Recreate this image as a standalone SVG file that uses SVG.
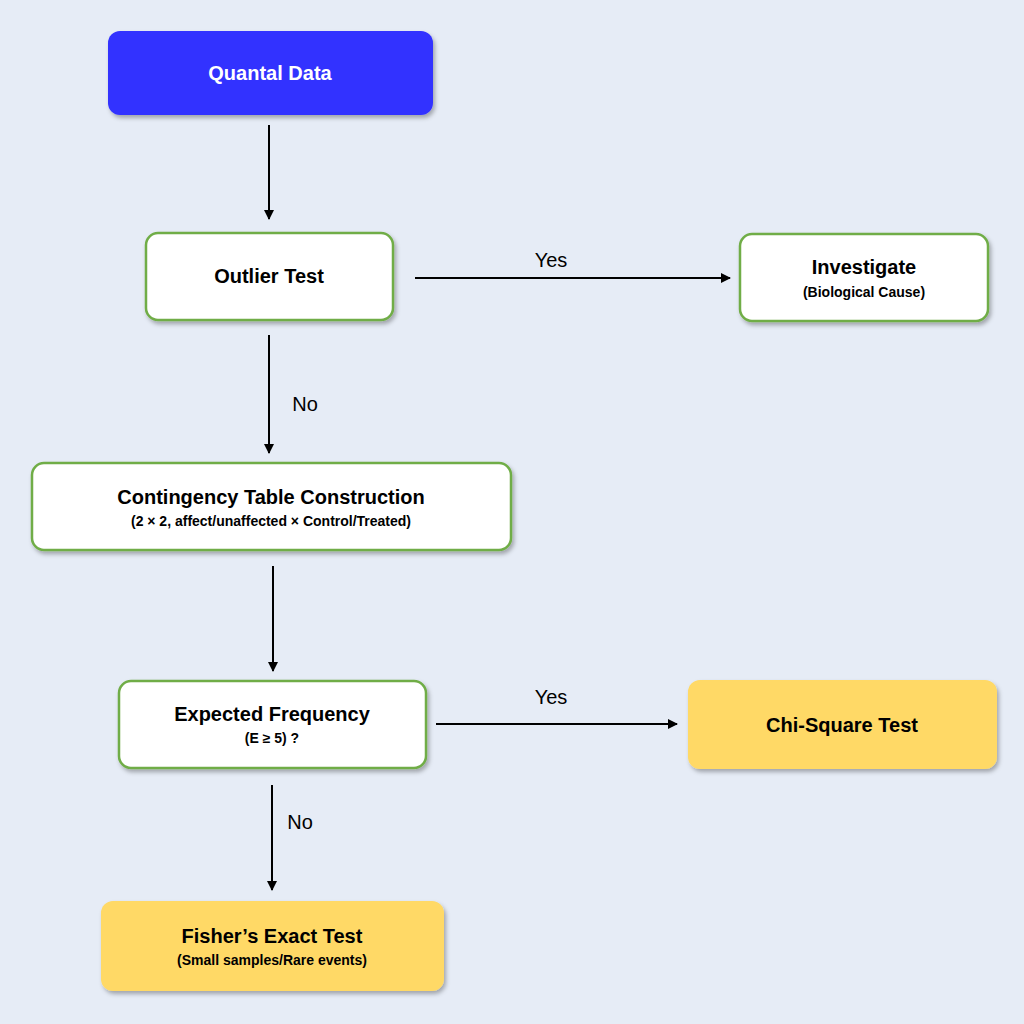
<svg xmlns="http://www.w3.org/2000/svg" width="1024" height="1024" viewBox="0 0 1024 1024">
<defs>
<filter id="sh" x="-10%" y="-10%" width="130%" height="140%"><feDropShadow dx="2" dy="3" stdDeviation="2" flood-color="#000" flood-opacity="0.3"/></filter>
<marker id="ar" markerWidth="10" markerHeight="10" refX="9" refY="5" orient="auto" markerUnits="userSpaceOnUse"><path d="M0,0 L10,5 L0,10 z" fill="#000"/></marker>
<style>
.w{fill:#fff;stroke:#70ad47;stroke-width:2.5;filter:url(#sh)}
.y{fill:#ffd966;filter:url(#sh)}
.b{fill:#3333ff;filter:url(#sh)}
text{font-family:"Liberation Sans",Arial,sans-serif;text-anchor:middle}
.t{font-size:20px;font-weight:bold;fill:#000}
.s{font-size:14px;font-weight:bold;fill:#000}
.l{font-size:20px;fill:#000}
.c line{stroke:#000;stroke-width:2;marker-end:url(#ar)}
</style>
</defs>
<rect width="1024" height="1024" fill="#e6ecf6"/>
<g id="n1"><rect class="b" x="108" y="31" width="325" height="84" rx="12"/><text class="t" x="270" y="80" fill="#fff" style="fill:#fff">Quantal Data</text></g>
<g id="n2"><rect class="w" x="146" y="233" width="247" height="87" rx="12"/><text class="t" x="269" y="283">Outlier Test</text></g>
<g id="n3"><rect class="w" x="740" y="234" width="248" height="87" rx="12"/><text class="t" x="864" y="274">Investigate</text><text class="s" x="864" y="297">(Biological  Cause)</text></g>
<g id="n4"><rect class="w" x="32" y="463" width="479" height="87" rx="12"/><text class="t" x="271" y="504">Contingency Table Construction</text><text class="s" x="271" y="526">(2 × 2, affect/unaffected × Control/Treated)</text></g>
<g id="n5"><rect class="w" x="119" y="681" width="307" height="87" rx="12"/><text class="t" x="272" y="721">Expected Frequency</text><text class="s" x="272" y="743">(E ≥ 5) ?</text></g>
<g id="n6"><rect class="y" x="688" y="680" width="309" height="89" rx="12"/><text class="t" x="842" y="732">Chi-Square  Test</text></g>
<g id="n7"><rect class="y" x="101" y="901" width="343" height="90" rx="12"/><text class="t" x="272" y="943">Fisher’s Exact Test</text><text class="s" x="272" y="965">(Small samples/Rare events)</text></g>
<g id="edges" class="c">
<line x1="269" y1="125" x2="269" y2="219"/>
<line x1="415" y1="278" x2="730" y2="278"/>
<line x1="269" y1="335" x2="269" y2="453"/>
<line x1="273" y1="566" x2="273" y2="671"/>
<line x1="436" y1="724" x2="677" y2="724"/>
<line x1="272" y1="785" x2="272" y2="890"/>
</g>
<g id="labels">
<text class="l" x="551" y="267">Yes</text>
<text class="l" x="305" y="411">No</text>
<text class="l" x="551" y="704">Yes</text>
<text class="l" x="300" y="829">No</text>
</g>
</svg>
